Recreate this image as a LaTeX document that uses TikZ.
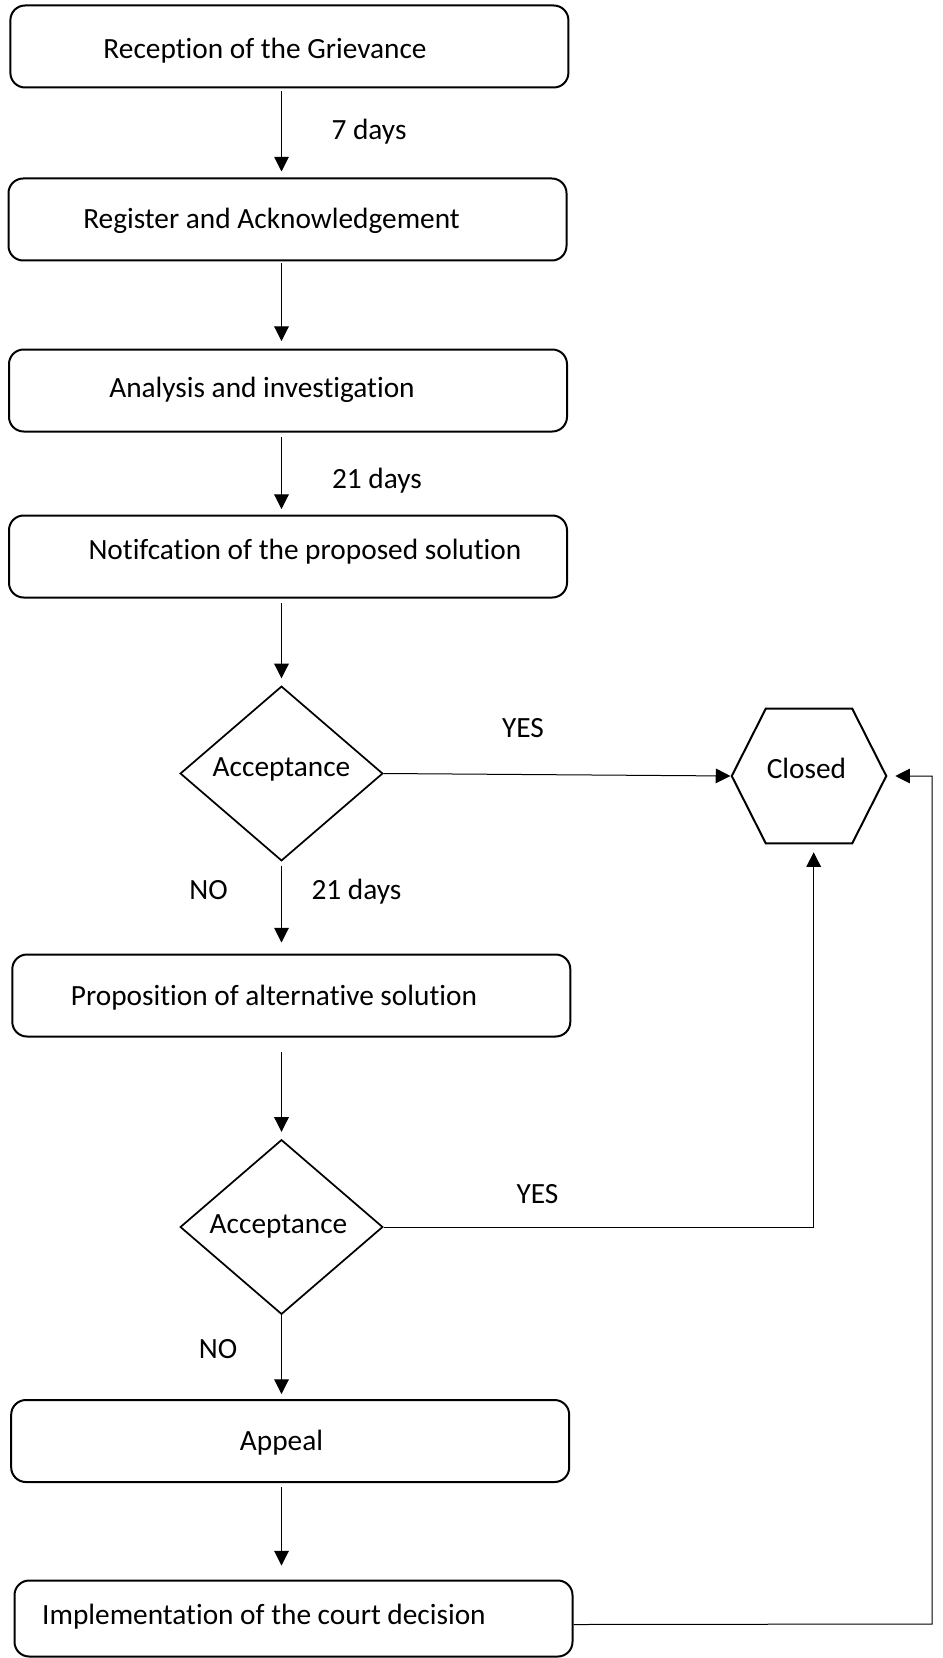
\documentclass[tikz,border=0pt]{standalone}
\usepackage{fontspec}
\setmainfont{Carlito}[Ligatures=NoCommon]
\usetikzlibrary{shapes.geometric,arrows.meta}
\begin{document}
\begin{tikzpicture}[x=0.75pt,y=-0.75pt,
  txt/.style={font=\fontsize{22}{26}\selectfont, inner sep=0pt, text height=15pt, text depth=4.5pt},
  box/.style={draw, line width=1.5pt, rounded corners=11pt, minimum width=418.5pt, minimum height=61.5pt, inner sep=0pt},
  dec/.style={draw, diamond, line width=1.3pt, minimum width=152pt, minimum height=131pt, inner sep=0pt},
  arr/.style={line width=0.75pt, -{Triangle[length=11pt,width=11pt]}},
  link/.style={line width=0.75pt}]
\clip (0,0) rectangle (942,1658);
% boxes
\node[box] (b1) at (289.4,46.5) {};
\node[box] (b2) at (287.5,219.5) {};
\node[box] (b3) at (288,390.5) {};
\node[box] (b4) at (288,556.5) {};
\node[box] (b5) at (291.3,995.5) {};
\node[box] (b6) at (290.2,1441) {};
\node[box, minimum height=57pt] (b7) at (293.5,1618.5) {};
% box texts
\node[txt] (t1) at (265,52) {Reception of the Grievance};
\node[txt] (t2) at (271.5,222) {Register and Acknowledgement};
\node[txt] (t3) at (262,390) {Analysis and investigation};
\node[txt] (t4) at (305,552) {Notifcation of the proposed solution};
\node[txt] (t5) at (274,998) {Proposition of alternative solution};
\node[txt] (t6) at (281.5,1443) {Appeal};
\node[txt] (t7) at (264,1617) {Implementation of the court decision};
% decisions
\node[dec] (d1) at (281.5,773.5) {};
\node[dec] (d2) at (281.5,1227) {};
\node[txt] (td1) at (281.5,769) {Acceptance};
\node[txt] (td2) at (278.5,1226) {Acceptance};
% closed hexagon
\node[inner sep=0pt, minimum width=115.5pt, minimum height=100.5pt] (closed) at (809,776) {};
\draw[line width=1.5pt] ([xshift=25.5pt]closed.north west) -- ([xshift=-25.5pt]closed.north east) -- (closed.east)
  -- ([xshift=-25.5pt]closed.south east) -- ([xshift=25.5pt]closed.south west) -- (closed.west) -- cycle;
\node[txt] (tc) at (806.5,771) {Closed};
% vertical arrows
\draw[arr, shorten <=2.25pt, shorten >=4.5pt] (b1.south -| d1) -- (b2.north -| d1);
\draw[arr, shorten <=1.5pt, shorten >=5.6pt] (b2.south -| d1) -- (b3.north -| d1);
\draw[arr, shorten <=3.4pt, shorten >=4.1pt] (b3.south -| d1) -- (b4.north -| d1);
\draw[arr, shorten <=3.4pt, shorten >=5.25pt] (b4.south -| d1) -- (d1.north);
\draw[arr, shorten <=3pt, shorten >=8.25pt] (d1.south) -- (b5.north -| d1);
\draw[arr, shorten <=10.5pt, shorten >=5.25pt] (b5.south -| d2) -- (d2.north);
\draw[arr, shorten >=3.75pt] (d2.south) -- (b6.north -| d2);
\draw[arr, shorten <=3pt, shorten >=10.5pt] (b6.south -| d2) -- (b7.north -| d2);
% yes branches
\draw[arr, shorten >=1pt] (d1.east) -- (closed.west);
\draw[arr, shorten >=6.75pt] (d2.east) -| ([xshift=3.5pt]closed.south);
\coordinate (rt) at (932,1624);
\draw[arr, shorten >=6.75pt] ([yshift=-4.5pt]b7.east) -- (rt) |- (closed.east);
% labels
\node[txt] (l1) at (369,133) {7 days};
\node[txt] (l2) at (377,481) {21 days};
\node[txt] (l3) at (523,730) {YES};
\node[txt] (l4) at (208.5,892) {NO};
\node[txt] (l5) at (356.5,892) {21 days};
\node[txt] (l6) at (537.5,1196) {YES};
\node[txt] (l7) at (218,1351) {NO};
\end{tikzpicture}
\end{document}
